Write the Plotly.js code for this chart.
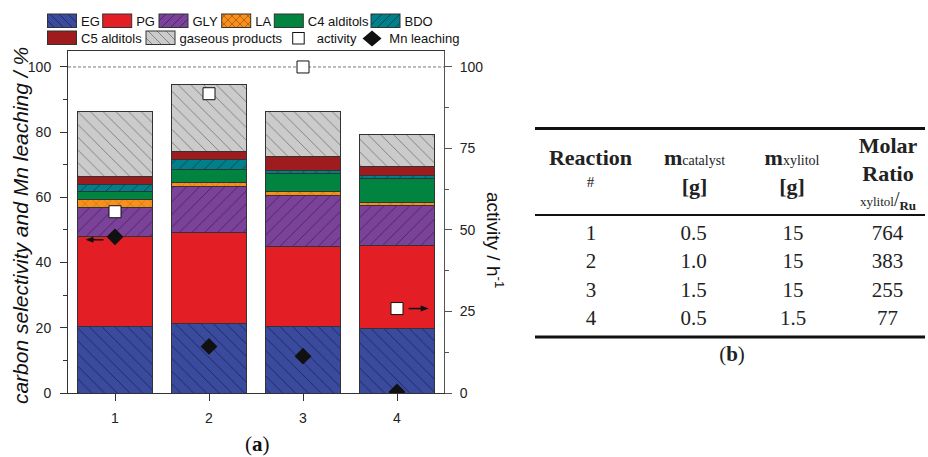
<!DOCTYPE html>
<html><head><meta charset="utf-8">
<script src="https://cdn.plot.ly/plotly-3.0.1.min.js"></script>
<style>
body{margin:0;padding:0;background:#fff;}
#wrap{position:relative;width:928px;height:457px;overflow:hidden;background:#fff;}
#chart{position:absolute;left:0;top:0;width:928px;height:457px;}
#over{position:absolute;left:0;top:0;width:928px;height:457px;pointer-events:none;}
</style></head><body>
<div id="wrap"><div id="chart"></div>
<svg id="over" width="928" height="457" xmlns="http://www.w3.org/2000/svg"><defs id="defs"></defs><g id="leg"></g><g id="arr"></g><g id="tbl"></g></svg>
</div>
<script>
// ---- data (a) ----
const reactions = [1, 2, 3, 4];
const seriesNames = ['EG', 'PG', 'GLY', 'LA', 'C4 alditols', 'BDO', 'C5 alditols', 'gaseous products'];
const EG = [20.5, 21.3, 20.3, 19.8];
const PG = [27.6, 27.8, 24.7, 25.5];
const GLY = [8.9, 14.1, 15.6, 12.1];
const LA = [2.5, 1.3, 1.1, 1.1];
const C4 = [2.2, 4.1, 5.6, 7.3];
const BDO = [2.2, 3.1, 1.0, 0.9];
const C5 = [2.5, 2.3, 4.1, 2.7];
const gaseous = [20.0, 20.6, 14.0, 9.9];
const activity = [55.6, 91.8, 100.0, 25.9];
const mnLeaching = [47.9, 14.3, 11.3, 0.3];
const xTickLabels = ['1', '2', '3', '4'];
const leftTicks = [0, 20, 40, 60, 80, 100];
const rightTicks = [0, 25, 50, 75, 100];

// ---- data (b) ----
const tblReaction = ['1', '2', '3', '4'];
const tblCatalyst = ['0.5', '1.0', '1.5', '0.5'];
const tblXylitol = ['15', '15', '15', '1.5'];
const tblRatio = ['764', '383', '255', '77'];

// ---- styles ----
const styles = [
  {color: '#3a4a9c', pat: {shape: '\\', fg: '#1c275e'}},
  {color: '#e31e24', pat: null},
  {color: '#7a4399', pat: {shape: '/', fg: '#4b2064'}},
  {color: '#f7901e', pat: {shape: 'x', fg: '#b85f00', size: 8}},
  {color: '#00843f', pat: null},
  {color: '#00808a', pat: {shape: '/', fg: '#00474d'}},
  {color: '#9e1b1e', pat: null},
  {color: '#cbcbcb', pat: {shape: '\\', fg: '#7a7a7a'}}
];
const seriesValues = [EG, PG, GLY, LA, C4, BDO, C5, gaseous];

const outline = {color: '#333', width: 1};
const traces = seriesValues.map((vals, i) => {
  const st = styles[i];
  const m = {color: st.color, line: outline};
  if (st.pat) m.pattern = {shape: st.pat.shape, fgcolor: st.pat.fg, bgcolor: st.color,
                           size: st.pat.size || 9, solidity: 0.1, fillmode: 'replace'};
  return {type: 'bar', name: seriesNames[i], x: reactions, y: vals, marker: m, width: 0.8, hoverinfo: 'y+name'};
});
traces.push({type: 'scatter', mode: 'markers', name: 'activity', x: reactions, y: activity, yaxis: 'y2',
  marker: {symbol: 'square', size: 12, color: '#fff', line: {color: '#111', width: 1}}});
traces.push({type: 'scatter', mode: 'markers', name: 'Mn leaching', x: reactions, y: mnLeaching, yaxis: 'y',
  marker: {symbol: 'diamond', size: 13, color: '#111', line: {color: '#111', width: 0}}});

const tickFont = {family: 'Liberation Sans, Arial, sans-serif', size: 14, color: '#222'};
const layout = {
  width: 928, height: 457,
  margin: {l: 68, r: 484, t: 51, b: 64},
  paper_bgcolor: '#fff', plot_bgcolor: '#fff',
  barmode: 'stack',
  showlegend: false,
  xaxis: {range: [0.5, 4.5], tickvals: reactions, ticktext: xTickLabels, ticks: 'outside', ticklen: 7,
          tickcolor: '#333', showline: true, linecolor: '#333', linewidth: 1, mirror: true,
          showgrid: false, zeroline: false, tickfont: tickFont, ticklabelstandoff: 5},
  yaxis: {range: [0, 104.9], tickvals: leftTicks, ticks: 'outside', ticklen: 7, tickcolor: '#333',
          minor: {dtick: 10, ticks: 'outside', ticklen: 4, tickcolor: '#333'},
          showline: true, linecolor: '#333', linewidth: 1, showgrid: false, zeroline: false,
          tickfont: tickFont, ticklabelstandoff: 6},
  yaxis2: {range: [0, 104.9], tickvals: rightTicks, overlaying: 'y', side: 'right', ticks: 'outside', ticklen: 7,
           tickcolor: '#555', minor: {dtick: 12.5, ticks: 'outside', ticklen: 4, tickcolor: '#555'},
           showline: true, linecolor: '#555', linewidth: 1, showgrid: false, zeroline: false,
           tickfont: tickFont, ticklabelstandoff: 5},
  shapes: [{type: 'line', xref: 'paper', x0: 0, x1: 1, yref: 'y', y0: 100, y1: 100,
            line: {color: '#555', width: 0.8, dash: '3px,2px'}, layer: 'below'}],
  annotations: [
    {text: '<i>carbon selectivity and Mn leaching / %</i>', xref: 'paper', yref: 'paper', x: -0.1277, y: 0.491,
     xanchor: 'center', yanchor: 'middle', textangle: -90, showarrow: false,
     font: {family: 'Liberation Sans, Arial, sans-serif', size: 21, color: '#111'}},
    {text: 'activity / h<sup>-1</sup>', xref: 'paper', yref: 'paper', x: 1.136, y: 0.447,
     xanchor: 'center', yanchor: 'middle', textangle: 90, showarrow: false,
     font: {family: 'Liberation Sans, Arial, sans-serif', size: 19, color: '#111'}},
    {text: '(<b>a</b>)', xref: 'paper', yref: 'paper', x: 0.505, y: -0.148, xanchor: 'center', yanchor: 'middle',
     showarrow: false, font: {family: 'Liberation Serif, serif', size: 21, color: '#111'}}
  ]
};

const NS = 'http://www.w3.org/2000/svg';
function el(tag, attrs, parent, text) {
  const e = document.createElementNS(NS, tag);
  for (const k in attrs) e.setAttribute(k, attrs[k]);
  if (text !== undefined) e.textContent = text;
  parent.appendChild(e);
  return e;
}

// arrows pointing from the markers to their axes (positioned through the plot's own axes)
const arrowSpecs = [
  {x: 0.686, y: 47, yaxis: 'yaxis', dx: 18},
  {x: 4.337, y: 25.9, yaxis: 'yaxis2', dx: -20}
];
Plotly.newPlot('chart', traces, layout, {staticPlot: true, displayModeBar: false}).then(gd => {
  const fl = gd._fullLayout;
  const g = document.getElementById('arr');
  arrowSpecs.forEach(a => {
    const px = fl.xaxis._offset + fl.xaxis.d2p(a.x);
    const py = fl[a.yaxis]._offset + fl[a.yaxis].d2p(a.y);
    const dir = Math.sign(a.dx);
    const hl = 8, hw = 3;
    el('line', {x1: px + a.dx, y1: py, x2: px + dir * hl * 0.8, y2: py, stroke: '#111', 'stroke-width': 1.5}, g);
    el('path', {d: `M${px},${py}L${px + dir * hl},${py - hw}L${px + dir * hl},${py + hw}Z`, fill: '#111'}, g);
  });
});

// ---- legend (SVG overlay) ----
const defs = document.getElementById('defs');
const leg = document.getElementById('leg');
styles.forEach((st, i) => {
  if (!st.pat) return;
  const s = st.pat.size || 9;
  const p = el('pattern', {id: 'pat' + i, patternUnits: 'userSpaceOnUse', width: s, height: s}, defs);
  el('rect', {width: s, height: s, fill: st.color}, p);
  let d = '';
  if (st.pat.shape === '\\' || st.pat.shape === 'x') d += `M0,0L${s},${s}M-1,${s - 1}L1,${s + 1}M${s - 1},-1L${s + 1},1`;
  if (st.pat.shape === '/' || st.pat.shape === 'x') d += `M0,${s}L${s},0M-1,1L1,-1M${s - 1},${s + 1}L${s + 1},${s - 1}`;
  el('path', {d: d, stroke: st.pat.fg, 'stroke-width': 0.9, fill: 'none'}, p);
});
const legPos = [[47.5, 0], [102.7, 0], [159, 0], [221.7, 0], [274.3, 0], [371, 0], [47.5, 1], [146, 1]];
const rowTop = [14, 31];
const legFont = {'font-family': 'Liberation Sans, Arial, sans-serif', 'font-size': 13, fill: '#111'};
seriesNames.forEach((nm, i) => {
  const [x, r] = legPos[i];
  const st = styles[i];
  el('rect', {x: x, y: rowTop[r], width: 29, height: 13.5,
              fill: st.pat ? `url(#pat${i})` : st.color, stroke: '#333', 'stroke-width': 1}, leg);
  el('text', Object.assign({x: x + 33.5, y: rowTop[r] + 12}, legFont), leg, nm);
});
el('rect', {x: 292.7, y: 32.5, width: 11.5, height: 11.5, fill: '#fff', stroke: '#111', 'stroke-width': 1}, leg);
el('text', Object.assign({x: 316.7, y: 43}, legFont), leg, 'activity');
el('path', {d: 'M362.5,38.5L372,30.5L381.5,38.5L372,46.5Z', fill: '#111'}, leg);
el('text', Object.assign({x: 389.3, y: 43}, legFont), leg, 'Mn leaching');

// ---- table (b) (SVG overlay) ----
const tbl = document.getElementById('tbl');
const serif = 'Liberation Serif, Times New Roman, serif';
function t(x, y, size, bold, content) {
  const e = el('text', {x: x, y: y, 'text-anchor': 'middle', 'font-family': serif, 'font-size': size,
                        'font-weight': bold ? 'bold' : 'normal', fill: '#222'}, tbl);
  content.forEach(c => {
    const ts = el('tspan', {}, e, c.s);
    if (c.size) ts.setAttribute('font-size', c.size);
    if (c.w) ts.setAttribute('font-weight', c.w);
    if (c.dy) ts.setAttribute('dy', c.dy);
  });
  return e;
}
function hline(y, w) { el('line', {x1: 535, x2: 925, y1: y, y2: y, stroke: '#111', 'stroke-width': w}, tbl); }
hline(128.5, 2.8); hline(215, 1.8); hline(337, 2.8);
const colX = [590.5, 694.5, 792, 888];
t(colX[0], 165.3, 22, true, [{s: 'Reaction'}]);
t(colX[0], 187, 15, false, [{s: '#'}]);
t(colX[1], 165.3, 22, true, [{s: 'm'}, {s: 'catalyst', size: 14, w: 'normal'}]);
t(colX[1], 194, 22, true, [{s: '[g]'}]);
t(colX[2], 165.3, 22, true, [{s: 'm'}, {s: 'xylitol', size: 14, w: 'normal'}]);
t(colX[2], 194, 22, true, [{s: '[g]'}]);
t(colX[3], 153, 22, true, [{s: 'Molar'}]);
t(colX[3], 181, 22, true, [{s: 'Ratio'}]);
t(colX[3], 206, 20, false, [{s: 'xylitol', size: 13}, {s: '/'}, {s: 'Ru', size: 13, w: 'bold', dy: 4}]);
const rowBase = [240, 268.3, 296.7, 325];
const rowColX = [591, 693.7, 793, 887.5];
for (let i = 0; i < 4; i++) {
  t(rowColX[0], rowBase[i], 21, false, [{s: tblReaction[i]}]);
  t(rowColX[1], rowBase[i], 21, false, [{s: tblCatalyst[i]}]);
  t(rowColX[2], rowBase[i], 21, false, [{s: tblXylitol[i]}]);
  t(rowColX[3], rowBase[i], 21, false, [{s: tblRatio[i]}]);
}
t(732, 361, 21, false, [{s: '('}, {s: 'b', w: 'bold'}, {s: ')'}]);
</script>
</body></html>
